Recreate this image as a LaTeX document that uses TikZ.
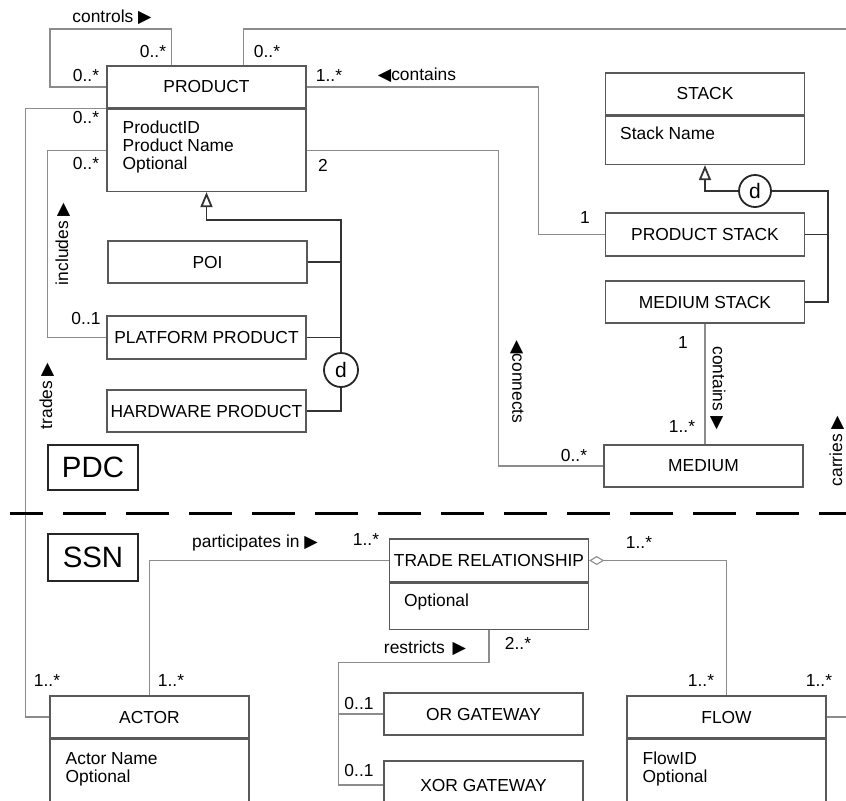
\documentclass[tikz,border=0pt]{standalone}
\usepackage{fontspec}
\setmainfont{Liberation Sans}
\newfontfamily\symfont{DejaVu Sans}
\usetikzlibrary{arrows.meta,calc}
\newcommand{\rtri}{{\symfont\char"25B6}}
\newcommand{\ltri}{{\symfont\char"25C0}}

\begin{document}
\begin{tikzpicture}[x=.5pt,y=-.5pt,font=\fontsize{8.7}{9}\selectfont,
  box/.style={draw=black!65,line width=.7pt,inner sep=0pt,minimum width=99.5pt,minimum height=21pt},
  attr/.style={anchor=north west,inner sep=0pt,align=left},
  assoc/.style={draw=black!45,line width=.55pt},
  gen/.style={draw=black!80,line width=.9pt},
  disc/.style={circle,draw=black!85,line width=.9pt,minimum size=17pt,inner sep=0pt,fill=white,font=\fontsize{10.5}{10.5}\selectfont},
  pkg/.style={draw=black!85,line width=1.4pt,minimum width=45pt,inner sep=0pt,font=\fontsize{14.7}{15}\selectfont},
  opentri/.style={-{Triangle[open,length=7.5pt,width=6pt]}}]
\useasboundingbox (0,0) rectangle (846,800);
\clip (0,0) rectangle (846,800);

% classes of the PDC part
\node[box] (prod) at (206.5,87) {PRODUCT};
\node[box,minimum height=41pt,anchor=north] (prodbody) at (prod.south) {};
\node[attr] at ($(prodbody.north west)+(16,12)$) {ProductID\\Product Name\\Optional};
\node[box] (poi) at (207.5,262) {POI};
\node[box,minimum height=21.5pt] (platform) at (206.5,337.5) {PLATFORM PRODUCT};
\node[box] (hardware) at (206.5,411) {HARDWARE PRODUCT};
\node[box] (stack) at (705,94) {STACK};
\node[box,minimum height=24pt,anchor=north] (stackbody) at (stack.south) {};
\node[attr] at ($(stackbody.north west)+(15,11)$) {Stack Name};
\node[box,minimum height=21.5pt] (pstack) at (705,234.5) {PRODUCT STACK};
\node[box] (mstack) at (705,302) {MEDIUM STACK};
\node[box] (medium) at (703.5,466) {MEDIUM};
\node[disc] (d1) at (341,370) {d};
\node[disc,minimum size=16pt] (d2) at (755,191) {d};
\node[pkg,minimum height=22.5pt] (pdc) at (93,467.5) {PDC};

% classes of the SSN part
\node[pkg,minimum height=23.5pt] (ssn) at (93,557.5) {SSN};
\node[box,minimum height=21.5pt] (trade) at (489,560.5) {TRADE RELATIONSHIP};
\node[box,minimum height=23pt,anchor=north] (tradebody) at (trade.south) {};
\node[attr] at ($(tradebody.north west)+(15,11)$) {Optional};
\node[box] (actor) at (149.5,717) {ACTOR};
\node[box,minimum height=46pt,anchor=north] (actorbody) at (actor.south) {};
\node[attr] at ($(actorbody.north west)+(16,13)$) {Actor Name\\Optional};
\node[box] (flow) at (726.5,717) {FLOW};
\node[box,minimum height=46pt,anchor=north] (flowbody) at (flow.south) {};
\node[attr] at ($(flowbody.north west)+(16,13)$) {FlowID\\Optional};
\node[box] (orgw) at (483.5,714) {OR GATEWAY};
\node[box,minimum height=24pt] (xorgw) at (483.5,785) {XOR GATEWAY};

% associations
\draw[assoc] (prod.west) -| (50,29) -| ($(prod.north west)+(65,0)$);
\draw[assoc] ($(prod.north west)+(137,0)$) |- (856,29) |- (flow.east);
\draw[assoc] (prod.east) -| ($(pstack.west)+(-66,0)$) -- (pstack.west);
\draw[assoc] (prodbody.east) -| ($(medium.west)+(-105,0)$) -- (medium.west);
\draw[assoc] (prod.south west) -| ($(actor.west)+(-24,0)$) -- (actor.west);
\draw[assoc] (prodbody.west) -| ($(platform.west)+(-59,0)$) -- (platform.west);
\draw[assoc] (mstack.south) -- (mstack.south |- medium.north);
\draw[assoc] (trade.west) -| (actor.north);
\draw[assoc,{Diamond[open,length=7.5pt,width=4.5pt]}-] (trade.east) -| (flow.north);
\draw[assoc] (tradebody.south) -- ++(0,32) -| ($(xorgw.west)+(-45,0)$) -- (xorgw.west);
\draw[assoc] (orgw.west) -- ++(-45,0);

% generalisations
\draw[gen,opentri] (d1.north) |- ($(prodbody.south)+(0,28)$) -- (prodbody.south);
\draw[gen] (poi.east) -- (poi.east -| d1);
\draw[gen] (platform.east) -- (platform.east -| d1);
\draw[gen] (hardware.east) -| (d1.south);
\draw[gen,opentri] (d2.west) -| (stackbody.south);
\draw[gen] (d2.east) -| ($(mstack.east)+(23,0)$) -- (mstack.east);
\draw[gen] (pstack.east) -- ++(23,0);

% package border
\draw[line width=1.5pt,dash pattern=on 21.5pt off 10pt,dash phase=5pt] (10,513) -- (846,513);

% roles and multiplicities
\node at (112,17) {controls \rtri};
\node at (153,52) {0..*};
\node at (86,76) {0..*};
\node at (267,52) {0..*};
\node at (329,76) {1..*};
\node at (417,75) {\ltri contains};
\node at (86,118) {0..*};
\node at (86,164) {0..*};
\node at (323,165) {2};
\node at (585,218) {1};
\node at (86,318) {0..1};
\node[rotate=90] at (63,244) {includes \rtri};
\node[rotate=90] at (47,396) {trades \rtri};
\node[rotate=-90] at (517,382) {\ltri connects};
\node at (683,343) {1};
\node[rotate=-90] at (718,388) {contains \rtri};
\node at (682,427) {1..*};
\node at (574,455) {0..*};
\node[rotate=90] at (837,451) {carries \rtri};
\node at (255,543) {participates in \rtri};
\node at (366,540) {1..*};
\node at (639,542) {1..*};
\node at (47,680) {1..*};
\node at (171,680) {1..*};
\node at (701,680) {1..*};
\node at (819,680) {1..*};
\node at (425,648) {restricts \,\rtri};
\node at (518,643) {2..*};
\node at (359,703) {0..1};
\node at (359,770) {0..1};
\end{tikzpicture}
\end{document}
